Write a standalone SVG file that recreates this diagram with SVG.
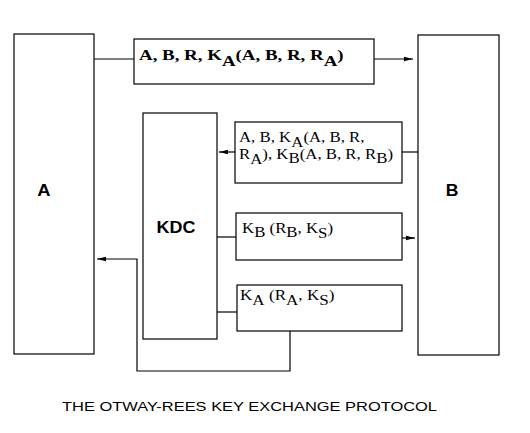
<svg xmlns="http://www.w3.org/2000/svg" width="530" height="433" viewBox="0 0 530 433">
<defs>
<marker id="ah" markerUnits="userSpaceOnUse" markerWidth="9" markerHeight="6" refX="9" refY="3" orient="auto">
<path d="M0,0.8 L9,3 L0,5.2 z" fill="#000"/>
</marker>
<style>
rect{fill:#fff;stroke:#000;stroke-width:1.2}
.c{fill:none;stroke:#000;stroke-width:1.2}
.big{font-family:"Liberation Sans",Arial,sans-serif;font-weight:bold;font-size:16px}
.msg{font-family:"Liberation Serif","Times New Roman",serif;font-size:14px}
.b{font-weight:bold;font-size:15px}
.cap{font-family:"Liberation Sans",Arial,sans-serif;font-size:13px}
</style>
</defs>
<rect x="0" y="0" width="530" height="433" style="fill:#fff;stroke:none"/>
<g id="connectors">
<path class="c" d="M94,59 H134"/>
<path class="c" d="M374,59 H413" marker-end="url(#ah)"/>
<path class="c" d="M418,152 H402"/>
<path class="c" d="M235,152 H219" marker-end="url(#ah)"/>
<path class="c" d="M217,237 H236"/>
<path class="c" d="M402,238 H415" marker-end="url(#ah)"/>
<path class="c" d="M217,312 H237"/>
<path class="c" d="M290,331 V371 H137 V259 H97" marker-end="url(#ah)"/>
</g>
<g id="nodeA"><rect x="14" y="34" width="80" height="320"/><text class="big" transform="translate(44,196) scale(1.15,1)" text-anchor="middle">A</text></g>
<g id="nodeB"><rect x="418" y="35" width="81" height="320"/><text class="big" transform="translate(452,196) scale(1.1,1)" text-anchor="middle">B</text></g>
<g id="nodeKDC"><rect x="143" y="113" width="74" height="226"/><text class="big" transform="translate(176,233) scale(1.12,1)" text-anchor="middle">KDC</text></g>
<g id="msg1"><rect x="134" y="39" width="240" height="45"/>
<text class="msg b" transform="translate(139,60) scale(1.26,1)">A, B, R, K<tspan dy="6">A</tspan><tspan dy="-6">(A, B, R, R</tspan><tspan dy="6">A</tspan><tspan dy="-6">)</tspan></text></g>
<g id="msg2"><rect x="235" y="122" width="167" height="61"/>
<text class="msg" transform="translate(239,142) scale(1.2,1)">A, B, K<tspan dy="5">A</tspan><tspan dy="-5">(A, B, R,</tspan></text>
<text class="msg" transform="translate(239,159) scale(1.2,1)">R<tspan dy="5">A</tspan><tspan dy="-5">), K</tspan><tspan dy="4">B</tspan><tspan dy="-4">(A, B, R, R</tspan><tspan dy="4">B</tspan><tspan dy="-4">)</tspan></text></g>
<g id="msg3"><rect x="236" y="213" width="166" height="47"/>
<text class="msg" transform="translate(242,233) scale(1.2,1)">K<tspan dy="4">B</tspan><tspan dy="-4"> (R</tspan><tspan dy="4">B</tspan><tspan dy="-4">, K</tspan><tspan dy="5">S</tspan><tspan dy="-5">)</tspan></text></g>
<g id="msg4"><rect x="237" y="285" width="165" height="46"/>
<text class="msg" transform="translate(240,300) scale(1.22,1)">K<tspan dy="5">A</tspan><tspan dy="-5"> (R</tspan><tspan dy="5">A</tspan><tspan dy="-5">, K</tspan><tspan dy="5">S</tspan><tspan dy="-5">)</tspan></text></g>
<text class="cap" x="62" y="411" textLength="375" lengthAdjust="spacingAndGlyphs">THE OTWAY-REES KEY EXCHANGE PROTOCOL</text>
</svg>
